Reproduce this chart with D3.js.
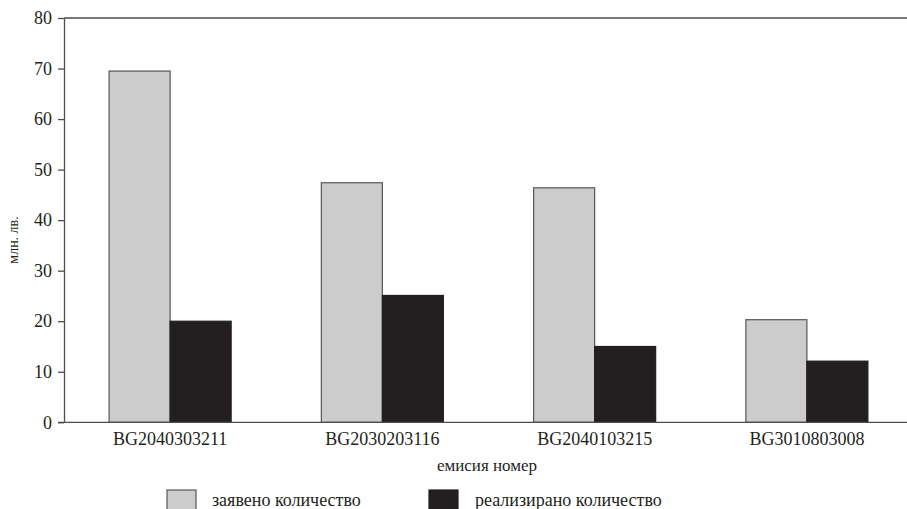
<!DOCTYPE html>
<html>
<head>
<meta charset="utf-8">
<script src="https://cdn.jsdelivr.net/npm/d3@7"></script>
<style>
  body { margin: 0; background: #fff; }
  svg, svg text { font-family: 'Liberation Serif', 'Times New Roman', Times, serif !important; fill: #231f20; }
</style>
</head>
<body>
<div id="chart"></div>
<script>
// Данни
const categories = ['BG2040303211', 'BG2030203116', 'BG2040103215', 'BG3010803008'];
const declared = [69.5, 47.4, 46.4, 20.3];
const realized = [20.0, 25.1, 15.0, 12.1];
const seriesNames = ['заявено количество', 'реализирано количество'];
const seriesColors = ['#cccccc', '#231f20'];
const yTicks = [0, 10, 20, 30, 40, 50, 60, 70, 80];

const width = 907;
const height = 509;
const margin = { top: 18, left: 64, bottom: 85 };
const plotRight = 913; // графиката излиза отвъд десния край

const svg = d3.select('#chart')
    .append('svg')
    .attr('width', width)
    .attr('height', height);

const x = d3.scaleBand()
    .domain(categories)
    .range([margin.left, plotRight])
    .paddingInner(0.425)
    .paddingOuter(0.2125);

const xSub = d3.scaleBand()
    .domain([0, 1])
    .range([0, x.bandwidth()]);

const y = d3.scaleLinear()
    .domain([0, 80])
    .range([height - margin.bottom - 1.7, margin.top]);

const rows = categories.map((c, i) => ({ cat: c, values: [declared[i], realized[i]] }));

// Горна линия на рамката
svg.append('line')
    .attr('x1', margin.left).attr('x2', width)
    .attr('y1', y(80)).attr('y2', y(80))
    .attr('stroke', '#4d4d4d').attr('stroke-width', 1.3);

// Стълбове
const groups = svg.selectAll('g.grp')
    .data(rows)
    .enter()
    .append('g')
    .attr('class', 'grp')
    .attr('transform', d => `translate(${x(d.cat)},0)`);

groups.selectAll('rect')
    .data(d => d.values.map((v, k) => ({ v, k })))
    .enter()
    .append('rect')
    .attr('x', d => xSub(d.k))
    .attr('y', d => y(d.v))
    .attr('width', xSub.bandwidth())
    .attr('height', d => y(0) - y(d.v))
    .attr('fill', d => seriesColors[d.k])
    .attr('stroke', d => d.k === 0 ? '#555' : '#231f20')
    .attr('stroke-width', 1.2);

// Оси
const yAxis = svg.append('g')
    .attr('transform', `translate(${margin.left},0)`)
    .call(d3.axisLeft(y).tickValues(yTicks).tickSize(6).tickSizeOuter(0).tickPadding(6));

const xAxis = svg.append('g')
    .attr('transform', `translate(0,${y(0)})`)
    .call(d3.axisBottom(x).tickSize(0).tickPadding(10));
xAxis.select('.domain').attr('d', `M${margin.left - 6},0H${width}`);

[yAxis, xAxis].forEach(a => {
    a.attr('font-family', null);
    a.selectAll('.domain, line').attr('stroke', '#4d4d4d').attr('stroke-width', 1.3);
    a.selectAll('text').attr('font-size', 18).attr('fill', '#231f20');
});

// Заглавия на осите
svg.append('text')
    .attr('x', 487)
    .attr('y', 471)
    .attr('text-anchor', 'middle')
    .attr('font-size', 17)
    .text('емисия номер');

svg.append('text')
    .attr('transform', 'translate(18,240) rotate(-90)')
    .attr('text-anchor', 'middle')
    .attr('font-size', 14)
    .text('млн. лв.');

// Легенда
const legendX = [167, 429];
const legend = svg.selectAll('g.leg')
    .data(seriesNames)
    .enter()
    .append('g')
    .attr('class', 'leg')
    .attr('transform', (d, i) => `translate(${legendX[i]},490)`);

legend.append('rect')
    .attr('width', 29)
    .attr('height', 22)
    .attr('fill', (d, i) => seriesColors[i])
    .attr('stroke', (d, i) => i === 0 ? '#555' : '#231f20')
    .attr('stroke-width', 1.2);

legend.append('text')
    .attr('x', (d, i) => i === 0 ? 45 : 46)
    .attr('y', 16)
    .attr('font-size', 18)
    .text(d => d);
</script>
</body>
</html>
